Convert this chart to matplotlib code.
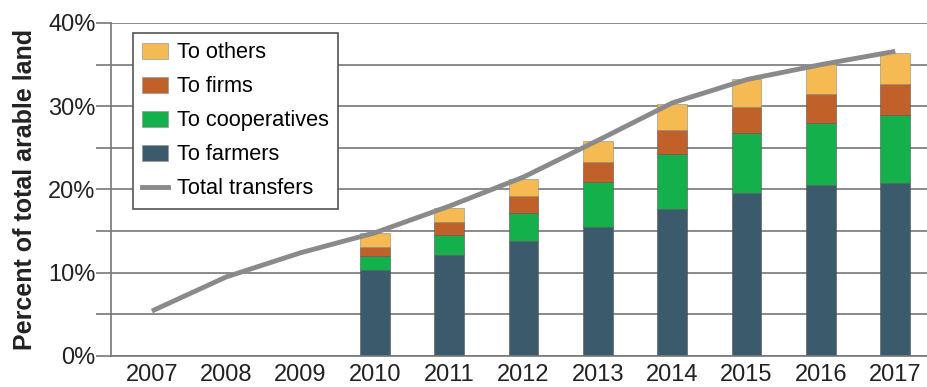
import numpy as np
import matplotlib.pyplot as plt
from matplotlib.patches import Patch
from matplotlib.lines import Line2D

plt.rcParams['font.family'] = ['Liberation Sans', 'DejaVu Sans']

# Data (percent of total arable land)
years = [2007, 2008, 2009, 2010, 2011, 2012, 2013, 2014, 2015, 2016, 2017]
total = [5.4, 9.5, 12.4, 14.8, 18.0, 21.5, 25.9, 30.4, 33.2, 35.0, 36.6]

bar_years = [2010, 2011, 2012, 2013, 2014, 2015, 2016, 2017]
farmers = [10.3, 12.1, 13.8, 15.5, 17.6, 19.6, 20.6, 20.8]
coops = [1.7, 2.4, 3.4, 5.4, 6.7, 7.2, 7.4, 8.2]
firms = [1.1, 1.6, 2.0, 2.4, 2.9, 3.1, 3.5, 3.7]
others = [1.7, 1.7, 2.1, 2.5, 3.1, 3.4, 3.6, 3.7]

c_farm = '#3b5a6c'
c_coop = '#14b04c'
c_firm = '#c1612a'
c_oth = '#f5ba52'
c_line = '#8a8a8a'

fig = plt.figure(figsize=(9.28, 3.87), dpi=100)
ax = fig.add_axes([111 / 928, 31 / 387, 817 / 928, 333 / 387])

w = 0.4
b1 = np.array(farmers)
b2 = b1 + np.array(coops)
b3 = b2 + np.array(firms)
ax.bar(bar_years, farmers, w, color=c_farm, edgecolor='#555555', lw=0.4, zorder=2)
ax.bar(bar_years, coops, w, bottom=b1, color=c_coop, edgecolor='#555555', lw=0.4, zorder=2)
ax.bar(bar_years, firms, w, bottom=b2, color=c_firm, edgecolor='#555555', lw=0.4, zorder=2)
ax.bar(bar_years, others, w, bottom=b3, color=c_oth, edgecolor='#888888', lw=0.4, zorder=2)
ax.plot(years, total, color=c_line, lw=3.5, solid_capstyle='butt', solid_joinstyle='round', zorder=3)

ax.set_xlim(2006.45, 2017.44)
ax.set_ylim(0, 40)
ax.set_xticks(years)
ax.set_yticks([0, 10, 20, 30, 40])
ax.set_yticks([5, 15, 25, 35], minor=True)
ax.set_yticklabels(['0%', '10%', '20%', '30%', '40%'])
ax.tick_params(axis='x', length=0, labelsize=17, pad=6, colors='#222222')
ax.tick_params(axis='y', which='both', direction='out', length=11, width=1.2,
               color='#777777', labelsize=17, labelcolor='#222222', pad=0)
ax.grid(axis='y', which='both', color='#777777', lw=1.2, zorder=0)

for s in ['top', 'right']:
    ax.spines[s].set_visible(False)
for s in ['left', 'bottom']:
    ax.spines[s].set_color('#777777')
    ax.spines[s].set_linewidth(1.2)

ax.set_ylabel('Percent of total arable land', fontsize=18, fontweight='bold',
              color='#222222', labelpad=8)

handles = [Patch(facecolor=c_oth, edgecolor='#999999', lw=0.5),
           Patch(facecolor=c_firm, edgecolor='#999999', lw=0.5),
           Patch(facecolor=c_coop, edgecolor='#999999', lw=0.5),
           Patch(facecolor=c_farm, edgecolor='#999999', lw=0.5),
           Line2D([], [], color=c_line, lw=3.5)]
labels = ['To others', 'To firms', 'To cooperatives', 'To farmers', 'Total transfers']
leg = ax.legend(handles, labels, loc='upper left', bbox_to_anchor=(0.027, 0.97),
                borderaxespad=0, fontsize=15.7, fancybox=False, framealpha=1,
                edgecolor='#555555', labelspacing=0.6, handlelength=1.2,
                handleheight=0.75, handletextpad=0.4, borderpad=0.42)
leg.get_frame().set_linewidth(1.2)
leg.set_zorder(5)

fig.savefig('out.png', dpi=100)
